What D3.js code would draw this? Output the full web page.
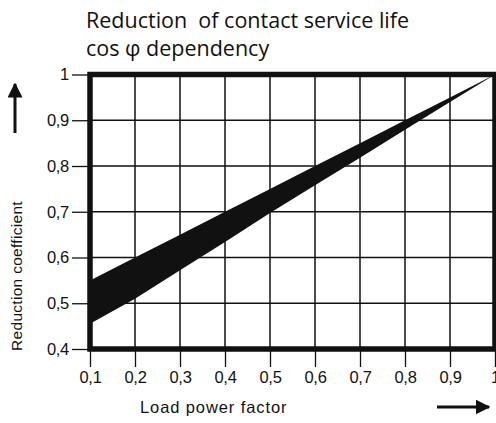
<!DOCTYPE html>
<html><head><meta charset="utf-8">
<script src="https://cdn.jsdelivr.net/npm/d3@7"></script>
<style>body{margin:0;background:#fff}svg{display:block}</style>
</head><body>
<script>
const powerFactor = [0.1, 0.2, 0.3, 0.4, 0.5, 0.6, 0.7, 0.8, 0.9, 1.0];
const upperCoef   = [0.55, 0.60, 0.65, 0.70, 0.75, 0.80, 0.85, 0.90, 0.95, 1.0];
const lowerCoef   = [0.455, 0.51, 0.572, 0.634, 0.697, 0.758, 0.818, 0.879, 0.94, 1.0];
const xTicks = [0.1, 0.2, 0.3, 0.4, 0.5, 0.6, 0.7, 0.8, 0.9, 1];
const yTicks = [0.4, 0.5, 0.6, 0.7, 0.8, 0.9, 1];
const fmt = v => v === 1 ? "1" : String(v).replace(".", ",");

const W = 496, H = 423;
const svg = d3.select("body").append("svg").attr("width", W).attr("height", H);
const x = d3.scaleLinear().domain([0.1, 1]).range([90, 495]);
const y = d3.scaleLinear().domain([0.4, 1]).range([349, 74.5]);
const ink = "#111";
const sans = "'Liberation Sans', Arial, sans-serif";

// title
svg.append("text").attr("x", 86).attr("y", 28).attr("font-family", "'Open Sans', sans-serif")
  .attr("font-size", 21.5).attr("fill", ink).attr("xml:space", "preserve")
  .text("Reduction  of contact service life");
svg.append("text").attr("x", 86).attr("y", 56).attr("font-family", "'Open Sans', sans-serif")
  .attr("font-size", 21.5).attr("fill", ink).text("cos φ dependency");

// grid
const g = svg.append("g");
g.selectAll("line.gx").data(xTicks.slice(1, -1)).join("line")
  .attr("x1", d => x(d)).attr("x2", d => x(d)).attr("y1", y(1)).attr("y2", y(0.4))
  .attr("stroke", ink).attr("stroke-width", 1.5);
g.selectAll("line.gy").data(yTicks.slice(1, -1)).join("line")
  .attr("y1", d => y(d)).attr("y2", d => y(d)).attr("x1", x(0.1)).attr("x2", x(1))
  .attr("stroke", ink).attr("stroke-width", 1.5);

// band
const band = powerFactor.map((p, i) => ({p, lo: lowerCoef[i], hi: upperCoef[i]}));
svg.append("path").datum(band)
  .attr("d", d3.area().x(d => x(d.p)).y0(d => y(d.lo)).y1(d => y(d.hi)))
  .attr("fill", ink);

// frame
svg.append("rect").attr("x", x(0.1)).attr("y", y(1)).attr("width", x(1) - x(0.1)).attr("height", y(0.4) - y(1))
  .attr("fill", "none").attr("stroke", ink).attr("stroke-width", 5.5);

// axes
const yAxis = d3.axisLeft(y).tickValues(yTicks).tickFormat(fmt).tickSize(16).tickPadding(3);
const ya = svg.append("g").attr("transform", `translate(${x(0.1) - 2},0)`).call(yAxis);
ya.select(".domain").remove();
ya.selectAll("line").attr("stroke", ink).attr("stroke-width", 1.3);
ya.selectAll("text").attr("font-family", sans).attr("font-size", 16.5).attr("fill", ink).attr("letter-spacing", -0.3);

const xAxis = d3.axisBottom(x).tickValues(xTicks).tickFormat(fmt).tickSize(16).tickPadding(4);
const xa = svg.append("g").attr("transform", `translate(0,${y(0.4) + 2})`).call(xAxis);
xa.select(".domain").remove();
xa.selectAll("line").attr("stroke", ink).attr("stroke-width", 1.3);
xa.selectAll("text").attr("font-family", sans).attr("font-size", 16.5).attr("fill", ink).attr("letter-spacing", -0.3);

// axis titles
svg.append("text").attr("transform", "translate(22,276) rotate(-90)").attr("text-anchor", "middle")
  .attr("font-family", sans).attr("font-size", 15.5).attr("fill", ink).attr("letter-spacing", 0.3)
  .text("Reduction coefficient");
svg.append("text").attr("x", 140).attr("y", 413).attr("font-family", sans)
  .attr("font-size", 16.5).attr("fill", ink).attr("letter-spacing", 0.9).text("Load power factor");

// arrows
const defs = svg.append("defs");
defs.append("marker").attr("id", "ah").attr("viewBox", "0 0 10 10").attr("refX", 9).attr("refY", 5)
  .attr("markerWidth", 5).attr("markerHeight", 5).attr("orient", "auto")
  .append("path").attr("d", "M0,0L10,5L0,10z").attr("fill", ink);
svg.append("line").attr("x1", 15).attr("y1", 133).attr("x2", 15).attr("y2", 84)
  .attr("stroke", ink).attr("stroke-width", 3).attr("marker-end", "url(#ah)");
svg.append("line").attr("x1", 437).attr("y1", 407).attr("x2", 489).attr("y2", 407)
  .attr("stroke", ink).attr("stroke-width", 3).attr("marker-end", "url(#ah)");
</script>
</body></html>
